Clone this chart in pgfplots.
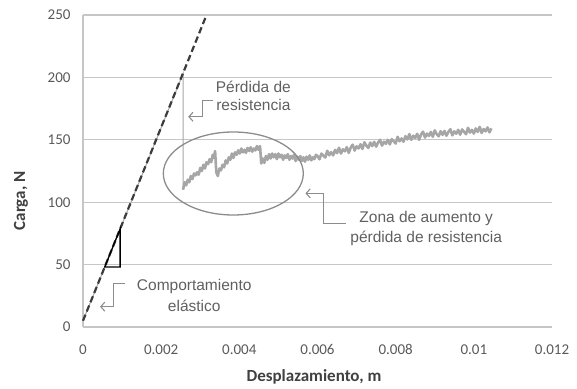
\documentclass[border=0pt]{standalone}
\usepackage{pgfplots}
\pgfplotsset{compat=1.18}
\usetikzlibrary{arrows.meta}
\usepackage{fontspec}
\setmainfont{Carlito}
\newfontfamily\annfont{Liberation Sans}
\definecolor{gridc}{HTML}{C6C6C6}
\definecolor{tickc}{HTML}{595959}
\definecolor{labc}{HTML}{404040}
\definecolor{curvec}{HTML}{A6A6A6}
\definecolor{dashc}{HTML}{3C3C3C}
\definecolor{annc}{HTML}{606060}
\definecolor{linec}{HTML}{8C8C8C}
\begin{document}
\begin{tikzpicture}
\useasboundingbox (-83bp,-62bp) rectangle (494bp,327bp);
\begin{axis}[
  scale only axis, width=469bp, height=312bp,
  xmin=0, xmax=0.012, ymin=0, ymax=250,
  xtick={0,0.002,0.004,0.006,0.008,0.01,0.012},
  xticklabels={0,0.002,0.004,0.006,0.008,0.01,0.012},
  scaled x ticks=false,
  ytick={0,50,100,150,200,250},
  /pgf/number format/assume math mode=true,
  ymajorgrids,
  major grid style={draw=gridc, line width=1.2bp},
  axis lines*=left,
  axis line style={draw=gridc, line width=1.2bp, -},
  major tick length=0pt,
  tick label style={font=\fontsize{15bp}{18bp}\selectfont, text=tickc},
  xticklabel style={yshift=-14bp},
  yticklabel style={xshift=-9bp},
  xlabel={Desplazamiento, m},
  ylabel={Carga, N},
  label style={font=\bfseries\fontsize{17bp}{20bp}\selectfont, text=labc},
  xlabel style={at={(axis description cs:0.4925,0)}, anchor=center, yshift=-50bp},
  ylabel style={at={(axis description cs:-0.132,0.404)}, anchor=center},
  clip=false,
]
% elastic branch and loss of strength
\addplot[draw=curvec, line width=1bp] coordinates {
 (0,5) (0.00256,203) (0.00256,110)
};
% noisy post-peak response
\addplot[draw=curvec, line width=2.6bp, line join=round] coordinates {
 (0.00256,110) (0.00260,116) (0.00264,113.5) (0.00268,118) (0.00272,116)
 (0.00276,121) (0.00280,118.5) (0.00284,123) (0.00288,121.5) (0.00292,124)
 (0.00296,122) (0.00300,127.5) (0.00304,125) (0.00308,130) (0.00312,127)
 (0.00316,132) (0.00320,130.5) (0.00324,134.5) (0.00328,132) (0.00332,138)
 (0.00335,135.5) (0.00338,141) (0.00341,124) (0.00345,121) (0.00349,127)
 (0.00353,125.5) (0.00357,130) (0.00361,128) (0.00365,133.5) (0.00369,131)
 (0.00373,136) (0.00377,134) (0.00381,139) (0.00385,135.5) (0.00389,140)
 (0.00393,138) (0.00397,141.5) (0.00401,139) (0.00405,143) (0.00409,140)
 (0.00413,142) (0.00417,139.5) (0.00421,143.5) (0.00425,141) (0.00429,144)
 (0.00433,140.5) (0.00437,143) (0.00441,141.5) (0.00445,145) (0.00449,142)
 (0.00453,145) (0.00456,131) (0.00460,135) (0.00464,131.5) (0.00468,137)
 (0.00472,134) (0.00476,138.5) (0.00480,135) (0.00484,139) (0.00488,136)
 (0.00492,138.5) (0.00496,134.5) (0.00500,139) (0.00504,136) (0.00508,138)
 (0.00512,134) (0.00516,137.5) (0.00520,135.5) (0.00524,138.5) (0.00528,134)
 (0.00532,137) (0.00536,135) (0.00540,138) (0.00544,133) (0.00548,136.5)
 (0.00552,134) (0.00556,137) (0.00560,133) (0.00564,136) (0.00568,132.5)
 (0.00572,136.5) (0.00576,134) (0.00580,137.5) (0.00584,133.5) (0.00588,136)
 (0.00592,134.5) (0.00596,138)
 (0.00600,137) (0.00605,134.4) (0.00610,138.9) (0.00615,137.3) (0.00620,135.8)
 (0.00625,141.2) (0.00630,137.6) (0.00635,140.1) (0.00640,137.5) (0.00645,141.9)
 (0.00650,139.3) (0.00655,143.6) (0.00660,139) (0.00665,142.4) (0.00670,140.8)
 (0.00675,144.1) (0.00680,139.5) (0.00685,143.8) (0.00690,146.1) (0.00695,141.4)
 (0.00700,144.8) (0.00705,143.1) (0.00710,146.4) (0.00715,142.7) (0.00720,148)
 (0.00725,145.3) (0.00730,143.5) (0.00735,147.8) (0.00740,145) (0.00745,148.3)
 (0.00750,144.5) (0.00755,147.8) (0.00760,150) (0.00765,145.3) (0.00770,148.5)
 (0.00775,146.8) (0.00780,150) (0.00785,146.3) (0.00790,150.5) (0.00795,148.8)
 (0.00800,147) (0.00805,152.4) (0.00810,148.8) (0.00815,151.1) (0.00820,148.5)
 (0.00825,152.9) (0.00830,150.3) (0.00835,154.6) (0.00840,150) (0.00845,153.3)
 (0.00850,151.5) (0.00855,154.8) (0.00860,150) (0.00865,154.3) (0.00870,156.5)
 (0.00875,151.8) (0.00880,155) (0.00885,153.1) (0.00890,156.3) (0.00895,152.4)
 (0.00900,157.5) (0.00905,154.6) (0.00910,152.8) (0.00915,156.9) (0.00920,154)
 (0.00925,157.1) (0.00930,153.3) (0.00935,156.4) (0.00940,158.5) (0.00945,153.6)
 (0.00950,156.8) (0.00955,154.9) (0.00960,158) (0.00965,154.1) (0.00970,158.3)
 (0.00975,156.4) (0.00980,154.5) (0.00985,159.6) (0.00990,155.8) (0.00995,157.9)
 (0.01000,155) (0.01005,159.1) (0.01010,156.3) (0.01015,160.4) (0.01020,155.5)
 (0.01025,158.6) (0.01030,156.8) (0.01035,159.9) (0.01040,156) (0.01045,159.1)
};
% elastic trend line
\addplot[draw=dashc, line width=2.2bp, dash pattern=on 6.5bp off 3.5bp] coordinates {
 (0,5) (0.003161,250)
};
% slope triangle
\draw[black, line width=1.3bp, line join=miter]
  (axis cs:0.000555,48) -- (axis cs:0.00095,48) -- (axis cs:0.00095,78.6) -- cycle;
% ellipse
\draw[linec, line width=1.3bp] (axis cs:0.003846,123) ellipse [x radius=70bp, y radius=41.5bp];
% annotations
\draw[linec, line width=1.1bp, -{Straight Barb[length=4bp, width=9bp]}]
  (axis cs:0.003326,181.3) -- (axis cs:0.003051,181.3) -- (axis cs:0.003051,168.5) -- (axis cs:0.002692,168.5);
\node[text=annc, align=center, font=\annfont\fontsize{15.5bp}{18bp}\selectfont]
  at (axis cs:0.004359,185.1) {Pérdida de\\resistencia};
\draw[linec, line width=1.1bp, -{Straight Barb[length=4bp, width=9bp]}]
  (axis cs:0.001077,35.0) -- (axis cs:0.000777,35.0) -- (axis cs:0.000777,16.3) -- (axis cs:0.000436,16.3);
\node[text=annc, align=center, font=\annfont\fontsize{15.5bp}{20.5bp}\selectfont]
  at (axis cs:0.002846,25.4) {Comportamiento\\elástico};
\draw[linec, line width=1.1bp, -{Straight Barb[length=4bp, width=9bp]}]
  (axis cs:0.006718,83.1) -- (axis cs:0.006162,83.1) -- (axis cs:0.006162,107.1) -- (axis cs:0.005692,107.1);
\node[text=annc, align=center, font=\annfont\fontsize{15.5bp}{20bp}\selectfont]
  at (axis cs:0.008782,79.1) {Zona de aumento y\\pérdida de resistencia};
\end{axis}
\end{tikzpicture}
\end{document}
